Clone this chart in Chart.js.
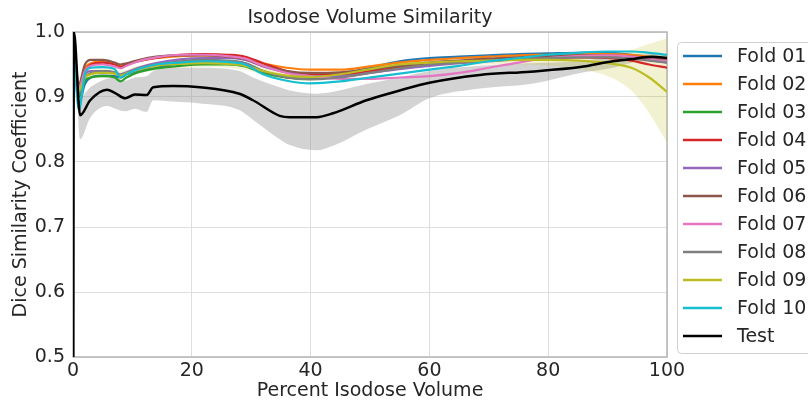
<!DOCTYPE html>
<html>
<head>
<meta charset="utf-8">
<script src="https://cdn.jsdelivr.net/npm/chart.js@4"></script>
<style>
body { margin: 0; background: #fff; overflow: hidden; }
</style>
</head>
<body>
<canvas id="chartDice" width="808" height="403"></canvas>
<script>
// percent isodose volume sample points
var foldX = [0, 1, 2, 3, 5, 7, 8, 9, 11, 14, 18, 22, 26, 29, 32, 36, 40, 45, 50, 55, 60, 65, 70, 75, 80, 85, 90, 94, 97, 100];
var testX = [0, 0.15, 1.2, 2.9, 5.7, 7.1, 8.8, 10.4, 12.4, 13.5, 16.9, 21.4, 28, 30.3, 34.8, 36.5, 41, 43.8, 49.4, 55, 60, 68.5, 77, 85.4, 90.9, 93.8, 97.6, 100];

var foldLabels = ['Fold 01', 'Fold 02', 'Fold 03', 'Fold 04', 'Fold 05', 'Fold 06', 'Fold 07', 'Fold 08', 'Fold 09', 'Fold 10'];
var foldColors = ['#1f77b4', '#ff7f0e', '#2ca02c', '#d62728', '#9467bd', '#8c564b', '#e377c2', '#7f7f7f', '#bcbd22', '#17becf'];

var fold01 = [1.0, 0.89, 0.92, 0.93, 0.933, 0.932, 0.93, 0.935, 0.94, 0.945, 0.952, 0.955, 0.955, 0.952, 0.94, 0.93, 0.928, 0.935, 0.945, 0.955, 0.96, 0.962, 0.964, 0.966, 0.967, 0.968, 0.968, 0.965, 0.962, 0.958];
var fold02 = [1.0, 0.92, 0.945, 0.952, 0.955, 0.952, 0.948, 0.95, 0.955, 0.96, 0.963, 0.964, 0.963, 0.96, 0.952, 0.945, 0.942, 0.942, 0.947, 0.953, 0.957, 0.96, 0.962, 0.964, 0.965, 0.966, 0.966, 0.965, 0.962, 0.958];
var fold03 = [1.0, 0.9, 0.925, 0.93, 0.932, 0.93, 0.924, 0.93, 0.938, 0.944, 0.948, 0.95, 0.95, 0.947, 0.937, 0.93, 0.928, 0.932, 0.94, 0.947, 0.952, 0.955, 0.958, 0.96, 0.962, 0.963, 0.963, 0.961, 0.958, 0.955];
var fold04 = [1.0, 0.915, 0.94, 0.95, 0.953, 0.95, 0.946, 0.95, 0.955, 0.96, 0.965, 0.966, 0.965, 0.962, 0.952, 0.94, 0.935, 0.935, 0.94, 0.945, 0.95, 0.953, 0.956, 0.958, 0.96, 0.961, 0.96, 0.956, 0.95, 0.945];
var fold05 = [1.0, 0.91, 0.935, 0.94, 0.94, 0.938, 0.935, 0.938, 0.945, 0.952, 0.958, 0.96, 0.96, 0.957, 0.947, 0.938, 0.932, 0.932, 0.937, 0.943, 0.948, 0.952, 0.955, 0.958, 0.96, 0.962, 0.962, 0.96, 0.957, 0.953];
var fold06 = [1.0, 0.92, 0.95, 0.957, 0.957, 0.953, 0.95, 0.952, 0.957, 0.962, 0.964, 0.964, 0.962, 0.958, 0.948, 0.94, 0.937, 0.938, 0.943, 0.948, 0.953, 0.956, 0.959, 0.961, 0.963, 0.964, 0.964, 0.962, 0.96, 0.956];
var fold07 = [1.0, 0.915, 0.94, 0.948, 0.95, 0.947, 0.944, 0.948, 0.955, 0.961, 0.965, 0.965, 0.963, 0.959, 0.948, 0.937, 0.932, 0.928, 0.928, 0.93, 0.932, 0.937, 0.945, 0.953, 0.96, 0.963, 0.964, 0.962, 0.958, 0.955];
var fold08 = [1.0, 0.905, 0.93, 0.937, 0.94, 0.938, 0.934, 0.937, 0.944, 0.95, 0.955, 0.957, 0.956, 0.952, 0.94, 0.93, 0.927, 0.93, 0.937, 0.944, 0.95, 0.953, 0.956, 0.958, 0.96, 0.961, 0.961, 0.959, 0.956, 0.953];
var fold09 = [1.0, 0.91, 0.93, 0.935, 0.937, 0.936, 0.933, 0.936, 0.942, 0.948, 0.951, 0.952, 0.951, 0.948, 0.94, 0.933, 0.931, 0.935, 0.943, 0.95, 0.953, 0.955, 0.956, 0.957, 0.957, 0.956, 0.952, 0.945, 0.93, 0.908];
var fold10 = [1.0, 0.88, 0.935, 0.945, 0.946, 0.943, 0.93, 0.935, 0.943, 0.95, 0.953, 0.955, 0.954, 0.95, 0.935, 0.925, 0.921, 0.924, 0.93, 0.936, 0.942, 0.948, 0.955, 0.96, 0.965, 0.968, 0.97, 0.97, 0.968, 0.965];

var fold09Lo = [1.0, 0.9, 0.922, 0.928, 0.93, 0.93, 0.926, 0.93, 0.936, 0.942, 0.945, 0.946, 0.945, 0.942, 0.934, 0.927, 0.925, 0.929, 0.937, 0.944, 0.947, 0.949, 0.95, 0.95, 0.948, 0.943, 0.932, 0.91, 0.875, 0.83];
var fold09Hi = [1.0, 0.92, 0.938, 0.942, 0.944, 0.942, 0.94, 0.942, 0.948, 0.954, 0.957, 0.958, 0.957, 0.954, 0.946, 0.939, 0.937, 0.941, 0.949, 0.956, 0.959, 0.961, 0.962, 0.963, 0.965, 0.967, 0.969, 0.973, 0.982, 0.99];

var test = [0.0, 1.0, 0.872, 0.895, 0.911, 0.906, 0.898, 0.904, 0.903, 0.915, 0.917, 0.915, 0.905, 0.895, 0.871, 0.869, 0.869, 0.875, 0.895, 0.91, 0.922, 0.934, 0.939, 0.946, 0.955, 0.958, 0.962, 0.96];
var testHi = [1.0, 1.0, 0.9, 0.915, 0.928, 0.93, 0.925, 0.93, 0.932, 0.94, 0.945, 0.945, 0.94, 0.93, 0.915, 0.91, 0.905, 0.908, 0.92, 0.93, 0.94, 0.948, 0.952, 0.955, 0.962, 0.964, 0.966, 0.966];
var testLo = [1.0, 1.0, 0.835, 0.868, 0.886, 0.882, 0.878, 0.882, 0.877, 0.895, 0.893, 0.89, 0.88, 0.865, 0.835, 0.826, 0.818, 0.825, 0.85, 0.872, 0.898, 0.913, 0.92, 0.937, 0.945, 0.952, 0.958, 0.955];

var xTicks = [0, 20, 40, 60, 80, 100];
var yTicks = [0.5, 0.6, 0.7, 0.8, 0.9, 1.0];

function pts(xs, ys) {
	return xs.map(function (x, i) { return { x: x, y: ys[i] }; });
}

var folds = [fold01, fold02, fold03, fold04, fold05, fold06, fold07, fold08, fold09, fold10];

var datasets = [
	{ label: 'testLo', data: pts(testX, testLo), borderWidth: 0, pointRadius: 0, fill: false, order: 30 },
	{ label: 'testHi', data: pts(testX, testHi), borderWidth: 0, pointRadius: 0, fill: '-1', backgroundColor: 'rgba(150,150,150,0.42)', order: 30 },
	{ label: 'f09Lo', data: pts(foldX, fold09Lo), borderWidth: 0, pointRadius: 0, fill: false, order: 25 },
	{ label: 'f09Hi', data: pts(foldX, fold09Hi), borderWidth: 0, pointRadius: 0, fill: '-1', backgroundColor: 'rgba(188,189,34,0.2)', order: 25 }
];
folds.forEach(function (f, i) {
	datasets.push({
		label: foldLabels[i],
		data: pts(foldX, f),
		borderColor: foldColors[i],
		borderWidth: 2.2,
		pointRadius: 0,
		fill: false,
		order: 12 - i
	});
});
datasets.push({ label: 'Test', data: pts(testX, test), borderColor: '#000000', borderWidth: 2.5, pointRadius: 0, fill: false, order: 0 });

var font = "'DejaVu Sans', sans-serif";
var fs = 19;

var framePlugin = {
	id: 'frame',
	beforeDatasetsDraw: function (chart) {
		var a = chart.chartArea, c = chart.ctx;
		c.save();
		c.strokeStyle = '#b5b5b5';
		c.lineWidth = 1.5;
		c.strokeRect(a.left, a.top, a.right - a.left, a.bottom - a.top);
		c.restore();
	},
	afterDraw: function (chart) {
		var c = chart.ctx, a = chart.chartArea;
		c.save();
		// title
		c.fillStyle = '#262626';
		c.font = fs + 'px ' + font;
		c.textAlign = 'center';
		c.textBaseline = 'middle';
		c.fillText('Isodose Volume Similarity', (a.left + a.right) / 2, 18);
		// legend box
		c.fillStyle = '#ffffff';
		c.strokeStyle = '#d0d0d0';
		c.lineWidth = 1;
		c.beginPath();
		c.roundRect(677.5, 42.5, 160, 311, 4);
		c.fill();
		c.stroke();
		var labels = foldLabels.concat(['Test']);
		var colors = foldColors.concat(['#000000']);
		c.textAlign = 'left';
		for (var i = 0; i < labels.length; i++) {
			var y = 56 + i * 28;
			c.strokeStyle = colors[i];
			c.lineWidth = 2.5;
			c.beginPath();
			c.moveTo(683, y);
			c.lineTo(722, y);
			c.stroke();
			c.fillStyle = '#262626';
			c.fillText(labels[i], 737, y + 1);
		}
		c.restore();
	}
};

var ctx = document.getElementById('chartDice').getContext('2d');
var chart = new Chart(ctx, {
	type: 'line',
	data: { datasets: datasets },
	plugins: [framePlugin],
	options: {
		responsive: false,
		animation: false,
		layout: { padding: { top: 32, right: 141, left: 0, bottom: 0 } },
		elements: { line: { cubicInterpolationMode: 'monotone' } },
		plugins: {
			legend: { display: false },
			tooltip: { enabled: false },
			title: { display: false }
		},
		scales: {
			x: {
				type: 'linear',
				min: 0,
				max: 100,
				afterFit: function (s) { s.height = 46; },
				afterBuildTicks: function (s) { s.ticks = xTicks.map(function (v) { return { value: v }; }); },
				grid: { color: '#dedede', lineWidth: 1, drawTicks: false },
				border: { display: false },
				ticks: { padding: 3, color: '#262626', font: { family: font, size: fs }, maxRotation: 0 },
				title: { display: true, text: 'Percent Isodose Volume', color: '#262626', font: { family: font, size: fs }, padding: { top: 0, bottom: 1 } }
			},
			y: {
				min: 0.5,
				max: 1.0,
				afterFit: function (s) { s.width = 73; },
				afterBuildTicks: function (s) { s.ticks = yTicks.map(function (v) { return { value: v }; }); },
				grid: { color: '#dedede', lineWidth: 1, drawTicks: false },
				border: { display: false },
				ticks: { padding: 8, color: '#262626', font: { family: font, size: fs }, callback: function (v) { return v.toFixed(1); } },
				title: { display: true, text: 'Dice Similarity Coefficient', color: '#262626', font: { family: font, size: fs }, padding: { top: 10, bottom: 0 } }
			}
		}
	}
});
</script>
</body>
</html>
